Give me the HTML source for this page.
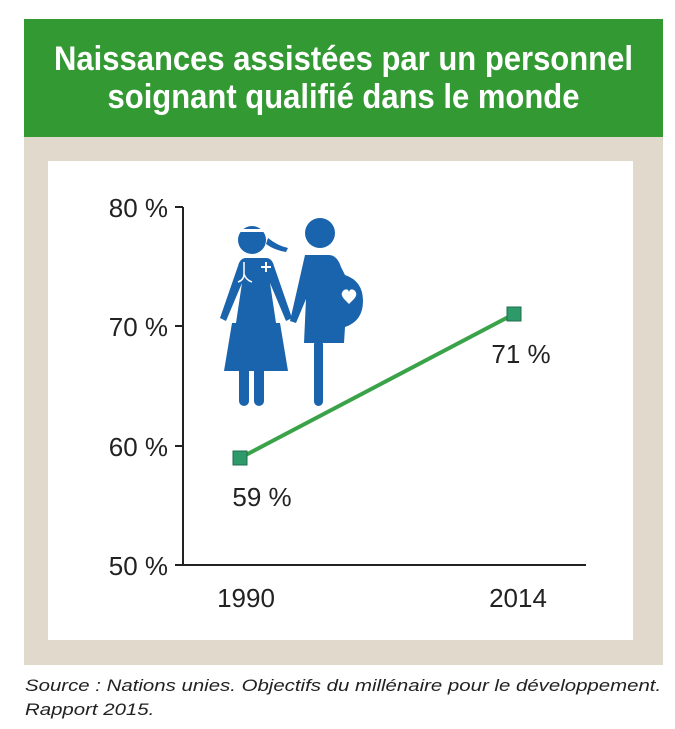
<!DOCTYPE html>
<html><head><meta charset="utf-8"><style>
body{margin:0;width:675px;height:729px;background:#fff;position:relative;font-family:"Liberation Sans",sans-serif;overflow:hidden}
.hdr{position:absolute;left:24px;top:19px;width:639px;height:118px;background:#339933}
.hdr div{position:absolute;left:0;width:639px;text-align:center;color:#fff;font-family:"Liberation Sans",sans-serif;font-weight:bold;font-size:31px;white-space:nowrap;transform:scaleY(1.1)}
.beige{position:absolute;left:24px;top:137px;width:639px;height:528px;background:#e0d9cc}
.white{position:absolute;left:48px;top:161px;width:585px;height:479px;background:#fff}
.src{position:absolute;left:25px;font-style:italic;font-size:17px;color:#222;transform:scaleX(1.2);transform-origin:0 0;white-space:nowrap}
</style></head><body>
<div class="hdr"><div style="top:22px">Naissances assistées par un personnel</div><div style="top:60px">soignant qualifié dans le monde</div></div>
<div class="beige"></div><div class="white"></div>
<svg style="position:absolute;left:0;top:0" width="675" height="729">
<g stroke="#222" stroke-width="2" fill="none">
<line x1="183" y1="207" x2="183" y2="565"/><line x1="183" y1="565" x2="586" y2="565"/>
<line x1="175" y1="207" x2="183" y2="207"/><line x1="175" y1="326" x2="183" y2="326"/><line x1="175" y1="446" x2="183" y2="446"/><line x1="175" y1="565" x2="183" y2="565"/>
</g>
<g font-family="Liberation Sans,sans-serif" font-size="26" fill="#222" text-anchor="end">
<text x="168" y="217">80 %</text><text x="168" y="336">70 %</text><text x="168" y="456">60 %</text><text x="168" y="575">50 %</text>
</g>
<g font-family="Liberation Sans,sans-serif" font-size="26" fill="#222" text-anchor="middle">
<text x="246" y="607">1990</text><text x="518" y="607">2014</text>
<text x="262" y="506">59 %</text><text x="521" y="363">71 %</text>
</g>
<line x1="240" y1="458" x2="514" y2="314" stroke="#3aa34a" stroke-width="4"/>
<rect x="233" y="451" width="14" height="14" fill="#2e9a6a" stroke="#1f6e4c"/>
<rect x="507" y="307" width="14" height="14" fill="#2e9a6a" stroke="#1f6e4c"/>
<g fill="#1a63ad">
<circle cx="252" cy="240" r="14"/>
<path d="M268 238 q10 8 20 10 l-2 4 q-12 -2 -20 -8z"/>
<path d="M238 258 h28 q6 0 8 8 l18 52 -6 3 -16 -38 6 40 h4 l8 48 h-64 l8 -48 h4 l6 -40 -16 38 -6 -3 18 -52 q2 -8 8 -8z"/>
<rect x="239" y="354" width="10" height="52" rx="5"/><rect x="254" y="354" width="10" height="52" rx="5"/>
<circle cx="320" cy="233" r="15"/>
<path d="M305 255 h24 q8 0 12 12 l4 8 q18 6 18 26 q0 20 -18 26 l-1 16 h-40 l2 -44 -10 24 -6 -2 z"/>
<rect x="314" y="340" width="9" height="66" rx="4.5"/>
</g>
<g fill="#fff" stroke="#fff">
<rect x="240" y="229" width="24" height="3" stroke="none"/>
<path d="M244 262 v12 q0 6 -6 8 M244 274 q2 6 8 8" fill="none" stroke-width="1.5"/>
<path d="M266 262 v10 M261 267 h10" stroke-width="2"/>
<path d="M345 300 q-6 -6 -1 -10 q4 -2 5 2 q1 -4 5 -2 q5 4 -1 10 l-4 4z" stroke="none"/>
</g>
</svg>
<div class="src" style="top:676px">Source : Nations unies. Objectifs du millénaire pour le développement.</div>
<div class="src" style="top:700px">Rapport 2015.</div>
</body></html>
